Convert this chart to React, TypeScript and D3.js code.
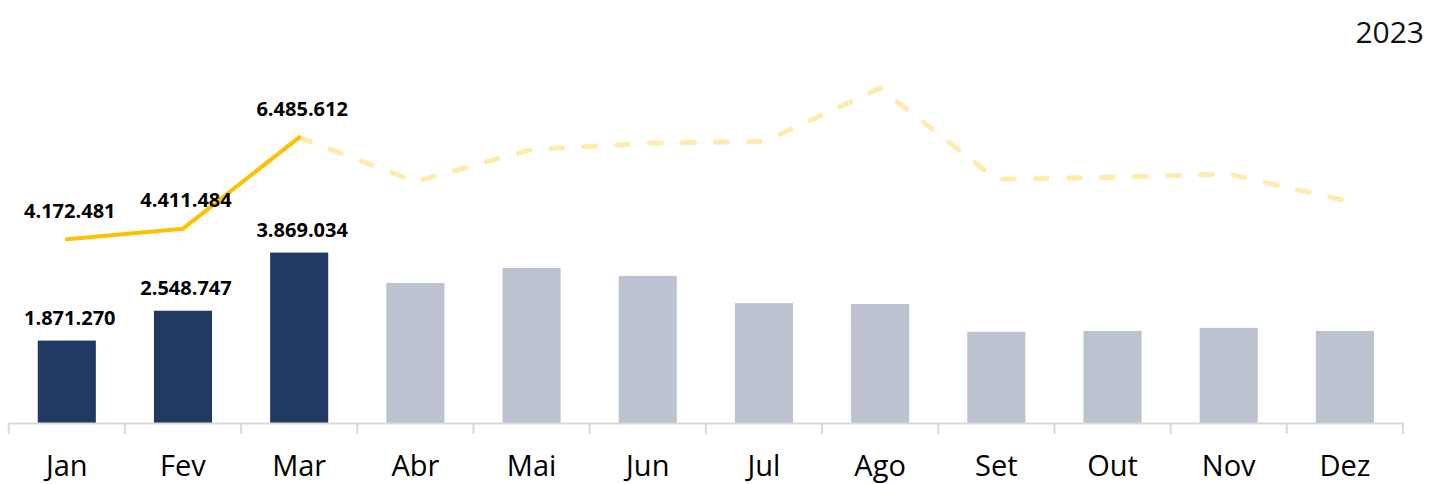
import React, { useEffect, useRef } from "react";
import * as d3 from "d3";

const months = ["Jan", "Fev", "Mar", "Abr", "Mai", "Jun", "Jul", "Ago", "Set", "Out", "Nov", "Dez"];
const barValues = [1871270, 2548747, 3869034, 3180000, 3520000, 3340000, 2720000, 2700000, 2070000, 2090000, 2160000, 2090000];
// line: first 3 realised, the rest is the faded dashed line
const lineValues = [4172481, 4411484, 6485612, 5480000, 6210000, 6350000, 6390000, 7600000, 5530000, 5580000, 5650000, 5050000];
const actualCount = 3;
const yearLabel = "2023";

const fmt = (v: number) => d3.format(",")(v).replace(/,/g, ".");

export default function App() {
  const ref = useRef<SVGSVGElement>(null);

  useEffect(() => {
    const svg = d3.select(ref.current);
    svg.selectAll("*").remove();
    const width = 1429;
    const height = 484;
    const baseline = 423;

    const x = d3.scaleBand().domain(months).range([8.7, 1403]).paddingInner(0).paddingOuter(0);
    const y = d3.scaleLinear().domain([0, 9000000]).range([baseline, baseline - 9 * 44.05]);
    const barW = x.bandwidth() / 2;
    const cx = (m: string) => (x(m) as number) + x.bandwidth() / 2;

    // bars
    svg.append("g")
      .selectAll("rect")
      .data(barValues)
      .join("rect")
      .attr("x", (d, i) => cx(months[i]) - barW / 2)
      .attr("width", barW)
      .attr("y", (d) => y(d))
      .attr("height", (d) => baseline - y(d))
      .attr("fill", (d, i) => (i < actualCount ? "#223962" : "#bcc2cf"));

    // x axis
    const xAxis = d3.axisBottom(x).tickSize(0).tickFormat(() => "");
    const axisG = svg.append("g").attr("transform", `translate(0, ${baseline})`).call(xAxis);
    axisG.select(".domain").attr("stroke", "#d9d9d9").attr("stroke-width", 2);
    const bounds = months.map((m) => x(m) as number).concat([1403]);
    axisG.selectAll("line.sep")
      .data(bounds)
      .join("line")
      .attr("class", "sep")
      .attr("x1", (d) => d)
      .attr("x2", (d) => d)
      .attr("y1", 0)
      .attr("y2", 11)
      .attr("stroke", "#d9d9d9")
      .attr("stroke-width", 2);

    svg.append("g")
      .selectAll("text")
      .data(months)
      .join("text")
      .attr("x", (d) => cx(d))
      .attr("y", 476)
      .attr("text-anchor", "middle")
      .attr("font-family", "'Open Sans', sans-serif")
      .attr("font-size", 29)
      .attr("fill", "#000")
      .text((d) => d);

    // lines
    const line = d3.line<number>()
      .x((d, i) => cx(months[i]))
      .y((d) => y(d));
    const dashedPts = lineValues.map((v, i) => ({ v, i })).filter((p) => p.i >= actualCount - 1);
    const dashedLine = d3.line<{ v: number; i: number }>()
      .x((p) => cx(months[p.i]))
      .y((p) => y(p.v));

    svg.append("path")
      .attr("d", dashedLine(dashedPts))
      .attr("fill", "none")
      .attr("stroke", "#FFC000")
      .attr("stroke-opacity", 0.32)
      .attr("stroke-width", 5)
      .attr("stroke-linecap", "round")
      .attr("stroke-dasharray", "12 21");

    svg.append("path")
      .attr("d", line(lineValues.slice(0, actualCount)))
      .attr("fill", "none")
      .attr("stroke", "#FFC000")
      .attr("stroke-width", 4)
      .attr("stroke-linecap", "round")
      .attr("stroke-linejoin", "round");

    // data labels
    const labelG = svg.append("g")
      .attr("font-family", "'Open Sans', sans-serif")
      .attr("font-weight", "bold")
      .attr("font-size", 20)
      .attr("text-anchor", "middle")
      .attr("fill", "#000");
    labelG.selectAll("text.bar")
      .data(barValues.slice(0, actualCount))
      .join("text")
      .attr("class", "bar")
      .attr("x", (d, i) => cx(months[i]) + 3)
      .attr("y", (d) => y(d) - 15.5)
      .text((d) => fmt(d));
    labelG.selectAll("text.line")
      .data(lineValues.slice(0, actualCount))
      .join("text")
      .attr("class", "line")
      .attr("x", (d, i) => cx(months[i]) + 3)
      .attr("y", (d) => y(d) - 21.5)
      .text((d) => fmt(d));

    svg.append("text")
      .attr("x", 1424)
      .attr("y", 43)
      .attr("text-anchor", "end")
      .attr("font-family", "'Open Sans', sans-serif")
      .attr("font-size", 30)
      .attr("fill", "#111")
      .text(yearLabel);

    svg.attr("width", width).attr("height", height);
  }, []);

  return (
    <svg
      ref={ref}
      width={1429}
      height={484}
      style={{ position: "absolute", left: 0, top: 0, background: "#fff" }}
    />
  );
}
